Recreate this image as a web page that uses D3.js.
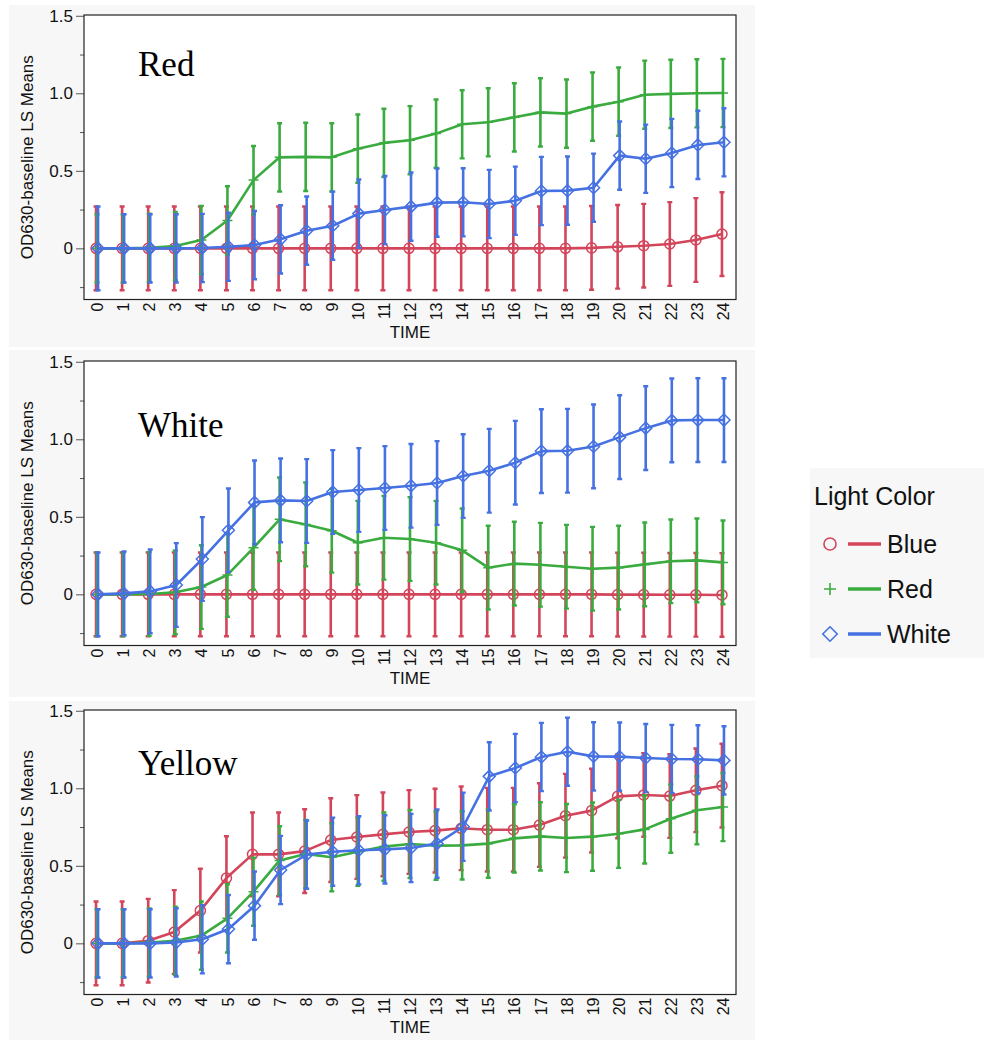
<!DOCTYPE html>
<html>
<head>
<meta charset="utf-8">
<script src="https://cdn.jsdelivr.net/npm/d3@7"></script>
<style>
  html, body { margin: 0; padding: 0; background: #ffffff; }
  svg { display: block; }
</style>
</head>
<body>
<svg id="chart" width="984" height="1040"></svg>
<script>
// ---- data ----
const times = [0, 1, 2, 3, 4, 5, 6, 7, 8, 9, 10, 11, 12, 13, 14, 15, 16, 17, 18, 19, 20, 21, 22, 23, 24];
const timeLabels = ["0","1","2","3","4","5","6","7","8","9","10","11","12","13","14","15","16","17","18","19","20","21","22","23","24"];
const lightColors = ["Blue", "Red", "White"];
const panelNames = ["Red", "White", "Yellow"];
const yMajorTicks = [0, 0.5, 1.0, 1.5];
const yMajorLabels = ["0", "0.5", "1.0", "1.5"];
const yMinorTicks = [-0.25, 0.25, 0.75, 1.25];

// LS means, panel "Red"
const redPanelBlue  = [0,0,0,0,0,0,0,0,0,0,0,0,0,0,0,0,0,0,0,0.003,0.010,0.017,0.028,0.054,0.092];
const redPanelRed   = [0,0,0.003,0.015,0.054,0.180,0.440,0.587,0.590,0.587,0.643,0.680,0.697,0.740,0.800,0.813,0.845,0.877,0.869,0.914,0.946,0.991,0.996,1.000,1.002];
const redPanelWhite = [0,0,0,0,0.002,0.010,0.021,0.058,0.114,0.146,0.224,0.247,0.269,0.295,0.297,0.286,0.307,0.370,0.372,0.391,0.598,0.578,0.615,0.667,0.684];
// LS means, panel "White"
const whitePanelBlue  = [0,0,0,0,0,0,0,0,0,0,0,0,0,0,0,0,0,0,0,0,-0.002,-0.002,-0.003,-0.003,-0.004];
const whitePanelRed   = [0,0,0.002,0.013,0.047,0.125,0.300,0.484,0.451,0.410,0.333,0.365,0.357,0.333,0.284,0.172,0.198,0.191,0.178,0.165,0.172,0.193,0.213,0.219,0.206];
const whitePanelWhite = [0,0.006,0.019,0.060,0.228,0.413,0.593,0.606,0.602,0.660,0.673,0.686,0.700,0.718,0.763,0.797,0.849,0.924,0.926,0.954,1.014,1.072,1.122,1.124,1.124];
// LS means, panel "Yellow"
const yellowPanelBlue  = [0,0,0.017,0.073,0.211,0.421,0.574,0.574,0.595,0.666,0.686,0.703,0.718,0.727,0.742,0.733,0.733,0.763,0.823,0.856,0.948,0.957,0.950,0.987,1.017];
const yellowPanelRed   = [0,0,0.005,0.017,0.050,0.161,0.333,0.535,0.576,0.555,0.591,0.624,0.641,0.630,0.632,0.643,0.677,0.690,0.679,0.688,0.707,0.735,0.804,0.858,0.879];
const yellowPanelWhite = [0,0,0,0.006,0.026,0.092,0.243,0.473,0.572,0.591,0.600,0.606,0.615,0.643,0.752,1.077,1.131,1.202,1.236,1.206,1.204,1.195,1.189,1.187,1.180];

// confidence half-widths (one value per series, or one per time point)
const redPanelCI    = [0.27, 0.22, [0.27,0.22,0.22,0.22,0.22,0.22,0.22,0.22,0.22,0.22,0.22,0.22,0.22,0.22,0.22,0.22,0.22,0.22,0.22,0.22,0.22,0.22,0.22,0.22,0.22]];
const whitePanelCI  = [0.27, 0.27, 0.27];
const yellowPanelCI = [0.27, 0.22, 0.22];

const panelMeans = [
  [redPanelBlue, redPanelRed, redPanelWhite],
  [whitePanelBlue, whitePanelRed, whitePanelWhite],
  [yellowPanelBlue, yellowPanelRed, yellowPanelWhite]
];
const panelCIs = [redPanelCI, whitePanelCI, yellowPanelCI];

// ---- styling / layout ----
const seriesColor = ["#d2455a", "#3aab3f", "#4571e2"];
const seriesShape = ["circle", "plus", "diamond"];
const seriesDodge = [-1, 0, 1];
const sansFont = "'Liberation Sans', Arial, Helvetica, sans-serif";
const serifFont = "'Liberation Serif', 'Times New Roman', serif";

const plotLeft = 84, plotRight = 736, plotHeight = 284.5;
const panelLayout = [
  { bgTop: 5,   bgBottom: 347,  frameTop: 15,  titleBaseline: 76 },
  { bgTop: 350, bgBottom: 697,  frameTop: 361, titleBaseline: 437 },
  { bgTop: 701, bgBottom: 1040, frameTop: 710, titleBaseline: 775 }
];

const svg = d3.select("#chart");

const x = d3.scalePoint()
  .domain(times)
  .range([plotLeft, plotRight])
  .padding(0.5);

// marker outlines; k scales the glyph
function markerPath(shape, k = 1) {
  if (shape === "circle") return d3.symbol(d3.symbolCircle, 80 * k * k)();
  const r = 6 * k, a = 5 * k;
  if (shape === "diamond") return `M0,${-r}L${r},0L0,${r}L${-r},0Z`;
  return `M${-a},0L${a},0M0,${-a}L0,${a}`;
}

panelNames.forEach((name, p) => {
  const L = panelLayout[p];
  const frameBottom = L.frameTop + plotHeight;

  // panel background
  svg.append("rect")
    .attr("x", 9).attr("y", L.bgTop)
    .attr("width", 746).attr("height", L.bgBottom - L.bgTop)
    .attr("fill", "#f7f7f7");

  const y = d3.scaleLinear()
    .domain([-0.33, 1.505])
    .range([frameBottom, L.frameTop]);

  const g = svg.append("g");

  // plot area
  g.append("rect")
    .attr("x", plotLeft).attr("y", L.frameTop)
    .attr("width", plotRight - plotLeft).attr("height", plotHeight)
    .attr("fill", "#ffffff");

  // y axis: major ticks with labels
  const yAxis = d3.axisLeft(y)
    .tickValues(yMajorTicks)
    .tickFormat((d, i) => yMajorLabels[i])
    .tickSizeOuter(0)
    .tickSize(8)
    .tickPadding(3);
  const ya = g.append("g")
    .attr("transform", `translate(${plotLeft},0)`)
    .call(yAxis);
  ya.select(".domain").remove();
  ya.selectAll("line").attr("stroke", "#555");
  ya.selectAll("text")
    .attr("font-family", sansFont)
    .attr("font-size", 17)
    .attr("fill", "#111");

  // y axis: minor ticks
  const yMinor = d3.axisLeft(y).tickValues(yMinorTicks).tickFormat("").tickSize(4).tickSizeOuter(0);
  const ym = g.append("g").attr("transform", `translate(${plotLeft},0)`).call(yMinor);
  ym.select(".domain").remove();
  ym.selectAll("line").attr("stroke", "#555");

  // x axis: rotated labels
  const xAxis = d3.axisBottom(x)
    .tickFormat((d, i) => timeLabels[i])
    .tickSize(0)
    .tickSizeOuter(0);
  const xa = g.append("g")
    .attr("transform", `translate(0,${frameBottom})`)
    .call(xAxis);
  xa.select(".domain").remove();
  xa.selectAll("text")
    .attr("font-family", sansFont)
    .attr("font-size", 16)
    .attr("fill", "#111")
    .attr("text-anchor", "end")
    .attr("dy", "0.35em")
    .attr("transform", "translate(0,3) rotate(-90)")
    .attr("x", 0)
    .attr("y", 0);

  // axis titles
  g.append("text")
    .attr("x", (plotLeft + plotRight) / 2)
    .attr("y", frameBottom + 38)
    .attr("text-anchor", "middle")
    .attr("font-family", sansFont)
    .attr("font-size", 17)
    .attr("fill", "#111")
    .text("TIME");
  g.append("text")
    .attr("transform", `translate(33,${(L.frameTop + frameBottom) / 2}) rotate(-90)`)
    .attr("text-anchor", "middle")
    .attr("font-family", sansFont)
    .attr("font-size", 17)
    .attr("fill", "#111")
    .text("OD630-baseline LS Means");

  // panel title
  g.append("text")
    .attr("x", 138)
    .attr("y", L.titleBaseline)
    .attr("font-family", serifFont)
    .attr("font-size", 35)
    .attr("fill", "#000")
    .text(name);

  // series
  const clip = "clip-" + p;
  svg.append("clipPath").attr("id", clip)
    .append("rect")
    .attr("x", plotLeft).attr("y", L.frameTop)
    .attr("width", plotRight - plotLeft).attr("height", plotHeight);
  const plot = g.append("g").attr("clip-path", `url(#${clip})`);

  lightColors.forEach((lc, s) => {
    const means = panelMeans[p][s];
    const ci = panelCIs[p][s];
    const half = i => Array.isArray(ci) ? ci[i] : ci;
    const col = seriesColor[s];
    const dx = seriesDodge[s];
    const pts = times.map((t, i) => ({ t, m: means[i], lo: means[i] - half(i), hi: means[i] + half(i) }));
    const sg = plot.append("g");

    // error bars
    const eb = sg.selectAll("g.eb").data(pts).join("g").attr("class", "eb")
      .attr("transform", d => `translate(${x(d.t) + dx},0)`);
    eb.append("line")
      .attr("x1", 0).attr("x2", 0)
      .attr("y1", d => y(d.lo)).attr("y2", d => y(d.hi))
      .attr("stroke", col).attr("stroke-width", 2.6);
    eb.append("line")
      .attr("x1", -2.5).attr("x2", 2.5)
      .attr("y1", d => y(d.hi)).attr("y2", d => y(d.hi))
      .attr("stroke", col).attr("stroke-width", 2.4);
    eb.append("line")
      .attr("x1", -2.5).attr("x2", 2.5)
      .attr("y1", d => y(d.lo)).attr("y2", d => y(d.lo))
      .attr("stroke", col).attr("stroke-width", 2.4);

    // mean line
    sg.append("path")
      .datum(pts)
      .attr("fill", "none")
      .attr("stroke", col)
      .attr("stroke-width", 2.6)
      .attr("stroke-linejoin", "round")
      .attr("d", d3.line().x(d => x(d.t) + dx).y(d => y(d.m)));

    // markers
    sg.selectAll("path.mk").data(pts).join("path").attr("class", "mk")
      .attr("transform", d => `translate(${x(d.t) + dx},${y(d.m)})`)
      .attr("d", markerPath(seriesShape[s]))
      .attr("fill", "none")
      .attr("stroke", col)
      .attr("stroke-width", 1.5);
  });

  // frame
  g.append("rect")
    .attr("x", plotLeft).attr("y", L.frameTop)
    .attr("width", plotRight - plotLeft).attr("height", plotHeight)
    .attr("fill", "none")
    .attr("stroke", "#222")
    .attr("stroke-width", 1.2);
});

// ---- legend ----
const legend = svg.append("g");
legend.append("rect")
  .attr("x", 810).attr("y", 468).attr("width", 174).attr("height", 190)
  .attr("fill", "#f7f7f7");
legend.append("text")
  .attr("x", 814).attr("y", 505)
  .attr("font-family", sansFont).attr("font-size", 25).attr("fill", "#111")
  .text("Light Color");
const legendRows = [544, 589, 634];
lightColors.forEach((lc, s) => {
  const ly = legendRows[s];
  const col = seriesColor[s];
  legend.append("path")
    .attr("transform", `translate(830,${ly})`)
    .attr("d", markerPath(seriesShape[s], 1.2))
    .attr("fill", "none").attr("stroke", col).attr("stroke-width", 1.6);
  legend.append("line")
    .attr("x1", 848).attr("x2", 881).attr("y1", ly).attr("y2", ly)
    .attr("stroke", col).attr("stroke-width", 3.5);
  legend.append("text")
    .attr("x", 887).attr("y", ly + 9)
    .attr("font-family", sansFont).attr("font-size", 25).attr("fill", "#111")
    .text(lc);
});
</script>
</body>
</html>
